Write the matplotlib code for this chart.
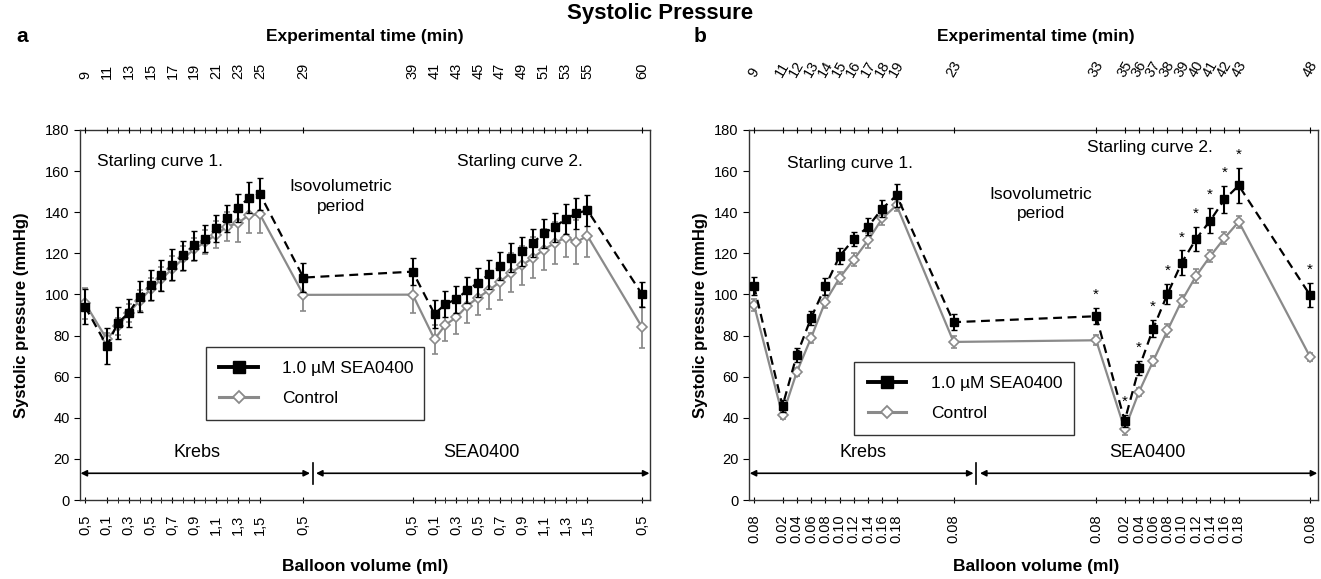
import matplotlib.pyplot as plt
from matplotlib.lines import Line2D

plt.rcParams['font.family'] = ['Liberation Sans', 'DejaVu Sans']

# ---- panel a data ----
time_a = [9, 11, 12, 13, 14, 15, 16, 17, 18, 19, 20, 21, 22, 23, 24, 25,
          29, 39,
          41, 42, 43, 44, 45, 46, 47, 48, 49, 50, 51, 52, 53, 54, 55, 60]
sea_a = [94.1, 75.0, 86.1, 91.0, 99.0, 104.6, 109.3, 114.4, 119.1, 123.9,
         127.1, 132.1, 137.0, 142.0, 147.0, 149.0,
         108.2, 111.1,
         90.5, 95.3, 97.7, 102.1, 105.8, 109.8, 113.8, 117.8, 121.0, 125.0,
         129.8, 132.7, 136.7, 139.4, 141.0, 100.1]
sea_a_err = [8.5, 8.7, 8.0, 7.0, 7.5, 7.5, 7.5, 7.5, 7.0, 7.0,
             6.5, 6.5, 6.5, 7.0, 7.5, 7.7,
             7.2, 6.7,
             6.7, 6.5, 6.5, 6.5, 7.0, 7.0, 7.0, 7.0, 7.0, 7.0,
             7.0, 7.0, 7.2, 7.5, 7.5, 6.0]
ctrl_a = [95.7, 78.2, 84.5, 91.0, 97.0, 102.5, 107.5, 112.5, 117.5, 122.0,
          125.5, 129.0, 133.0, 134.7, 138.6, 139.1,
          99.8, 99.9,
          78.2, 85.2, 88.9, 94.5, 98.5, 102.1, 106.1, 110.6, 114.1, 117.8,
          121.8, 125.0, 127.7, 125.5, 128.5, 84.1]
ctrl_a_err = [7.5, 3.0, 4.0, 4.5, 5.0, 5.5, 6.0, 6.0, 6.0, 5.5,
              6.0, 6.5, 7.0, 9.0, 8.5, 9.0,
              8.0, 9.0,
              7.0, 8.0, 8.0, 8.5, 8.5, 9.0, 9.0, 9.5, 9.5, 10.0,
              10.0, 10.0, 9.5, 10.5, 10.5, 10.0]
ticks_a = [9, 11, 13, 15, 17, 19, 21, 23, 25, 29,
           39, 41, 43, 45, 47, 49, 51, 53, 55, 60]
vol_a = ['0,5', '0,1', '0,3', '0,5', '0,7', '0,9', '1,1', '1,3', '1,5', '0,5',
         '0,5', '0,1', '0,3', '0,5', '0,7', '0,9', '1,1', '1,3', '1,5', '0,5']

# ---- panel b data ----
time_b = [9, 11, 12, 13, 14, 15, 16, 17, 18, 19, 23,
          33, 35, 36, 37, 38, 39, 40, 41, 42, 43, 48]
sea_b = [104.2, 45.7, 70.5, 88.5, 103.9, 118.6, 126.9, 133.0, 141.8, 148.2, 86.5,
         89.4, 38.5, 64.1, 83.4, 100.2, 115.4, 126.9, 135.9, 146.2, 153.0, 99.7]
sea_b_err = [4.5, 3.0, 3.5, 3.5, 4.0, 4.0, 3.5, 4.0, 4.0, 5.5, 4.0,
             4.0, 3.0, 3.5, 4.0, 5.0, 6.0, 6.0, 6.0, 6.5, 8.5, 6.0]
ctrl_b = [94.9, 41.2, 62.2, 78.8, 96.5, 108.0, 117.0, 126.3, 137.0, 143.4, 76.9,
          77.7, 34.4, 52.5, 67.6, 82.5, 96.9, 108.9, 118.6, 127.4, 135.4, 69.7]
ctrl_b_err = [3.0, 2.0, 2.0, 2.5, 3.0, 3.0, 3.0, 3.5, 3.0, 3.0, 3.0,
              2.5, 3.0, 2.0, 2.5, 3.0, 3.0, 3.5, 3.0, 3.0, 3.0, 2.0]
vol_b = ['0.08', '0.02', '0.04', '0.06', '0.08', '0.10', '0.12', '0.14', '0.16',
         '0.18', '0.08', '0.08', '0.02', '0.04', '0.06', '0.08', '0.10', '0.12',
         '0.14', '0.16', '0.18', '0.08']
# significant points (asterisks)
star_b = [33, 35, 36, 37, 38, 39, 40, 41, 42, 43, 48]

W, H = 1321, 579
fig = plt.figure(figsize=(W / 100, H / 100), dpi=100)

GRAY = '#8a8a8a'


def draw_panel(ax, t, sea, sea_err, ctrl, ctrl_err, xlim, top_ticks, top_rot,
               bot_labels, split, texts, leg_box):
    ax.errorbar(t, ctrl, yerr=ctrl_err, color=GRAY, lw=1.6, marker='D',
                ms=5.5, mfc='white', mec=GRAY, mew=1.2, ecolor=GRAY,
                elinewidth=1.3, capsize=2, zorder=2)
    ax.errorbar(t, sea, yerr=sea_err, color='black', lw=1.6, ls=(0, (4, 2.5)),
                marker='s', ms=6, ecolor='black', elinewidth=1.5, capsize=2,
                zorder=3)
    ax.set_xlim(*xlim)
    ax.set_ylim(0, 180)
    ax.set_yticks(range(0, 181, 20))
    ax.tick_params(axis='y', direction='out', length=4, labelsize=10.5)
    for s in ax.spines.values():
        s.set_linewidth(1.0)
        s.set_color('#333333')

    # bottom axis: balloon volume
    ax.set_xticks(top_ticks)
    ax.set_xticklabels(bot_labels, rotation=90, fontsize=10.5)
    ax.set_xticks(t, minor=True)
    ax.tick_params(axis='x', which='both', direction='inout', length=5,
                   pad=8)

    # top axis: experimental time
    top = ax.twiny()
    top.set_xlim(*xlim)
    top.set_xticks(top_ticks)
    top.set_xticklabels([str(v) for v in top_ticks], rotation=top_rot,
                        fontsize=10.5)
    top.set_xticks(t, minor=True)
    top.tick_params(axis='x', which='both', direction='inout', length=5,
                    pad=34)
    for s in top.spines.values():
        s.set_visible(False)

    # Krebs / SEA0400 spans
    x0, x1 = xlim
    arr = dict(arrowstyle='<|-|>', color='black', lw=1.2, mutation_scale=9,
               shrinkA=0, shrinkB=0)
    ax.annotate('', xy=(split[0], 13), xytext=(x0 + 0.05, 13), arrowprops=arr)
    ax.annotate('', xy=(x1 - 0.05, 13), xytext=(split[2], 13), arrowprops=arr)
    ax.plot([split[1], split[1]], [8, 18], color='black', lw=1.2)
    ax.text((x0 + split[1]) / 2, 23, 'Krebs', ha='center', va='center',
            fontsize=13)
    ax.text((split[1] + x1) / 2, 23, 'SEA0400', ha='center', va='center',
            fontsize=13)

    for (x, y, s) in texts:
        ax.text(x, y, s, ha='center', va='center', fontsize=12.5,
                linespacing=1.4)

    handles = [Line2D([], [], color='black', lw=2.8, marker='s', ms=8),
               Line2D([], [], color=GRAY, lw=2.2, marker='D', ms=6.5,
                      mfc='white', mec=GRAY, mew=1.3)]
    leg = ax.legend(handles, ['1.0 µM SEA0400', 'Control'], loc='center',
                    bbox_to_anchor=leg_box, mode='expand', fontsize=12.5,
                    frameon=True, fancybox=False, framealpha=1,
                    edgecolor='#333333', handlelength=2.2, handletextpad=1.4,
                    labelspacing=0.9, borderpad=0.8)
    leg.get_frame().set_linewidth(1.0)
    return top


ax_a = fig.add_axes([80 / W, 1 - 500 / H, 570 / W, 370 / H])
draw_panel(ax_a, time_a, sea_a, sea_a_err, ctrl_a, ctrl_a_err,
           (8.54, 60.73), ticks_a, 90, vol_a, (29.6, 29.9, 30.15),
           [(15.9, 164.5, 'Starling curve 1.'),
            (32.4, 147.5, 'Isovolumetric\nperiod'),
            (48.8, 164.5, 'Starling curve 2.')],
           (0.205, 0.211, 0.414, 0.208))

ax_b = fig.add_axes([749 / W, 1 - 500 / H, 569 / W, 370 / H])
draw_panel(ax_b, time_b, sea_b, sea_b_err, ctrl_b, ctrl_b_err,
           (8.65, 48.56), time_b, 60, vol_b, (24.4, 24.6, 24.85),
           [(15.7, 163.5, 'Starling curve 1.'),
            (29.1, 144.0, 'Isovolumetric\nperiod'),
            (36.8, 171.5, 'Starling curve 2.')],
           (0.170, 0.173, 0.417, 0.203))

for tt in star_b:
    i = time_b.index(tt)
    ax_b.text(tt, sea_b[i] + sea_b_err[i] + 3, '*', ha='center', va='bottom',
              fontsize=11)

fig.text(0.5, 1 - 13 / H, 'Systolic Pressure', ha='center', va='center',
         fontsize=16, weight='bold')
for x, s in [(22, 'a'), (700, 'b')]:
    fig.text(x / W, 1 - 37 / H, s, ha='center', va='center', fontsize=15,
             weight='bold')
for xc in [365, 1036]:
    fig.text(xc / W, 1 - 37 / H, 'Experimental time (min)', ha='center',
             va='center', fontsize=12.5, weight='bold')
    fig.text(xc / W, 1 - 566 / H, 'Balloon volume (ml)', ha='center',
             va='center', fontsize=12.5, weight='bold')
for xl in [22, 701]:
    fig.text(xl / W, 1 - 315 / H, 'Systolic pressure (mmHg)', rotation=90,
             ha='center', va='center', fontsize=12, weight='bold')

fig.savefig('out.png', dpi=100)
